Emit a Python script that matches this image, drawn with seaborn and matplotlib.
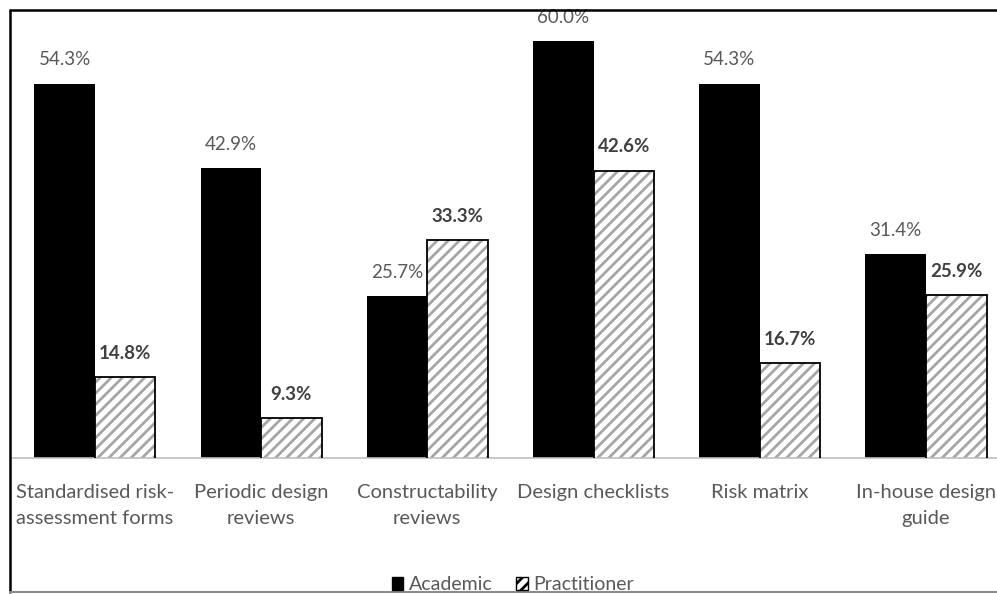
import matplotlib
matplotlib.use("Agg")
import matplotlib.pyplot as plt
import seaborn as sns
import pandas as pd
from matplotlib.patches import Rectangle, Patch

categories = ["Standardised risk-\nassessment forms", "Periodic design\nreviews",
              "Constructability\nreviews", "Design checklists", "Risk matrix",
              "In-house design\nguide"]
academic = [54.3, 42.9, 25.7, 60.0, 54.3, 31.4]
practitioner = [14.8, 9.3, 33.3, 42.6, 16.7, 25.9]
groups = ["Academic", "Practitioner"]

df = pd.DataFrame({
    "Technique": categories * 2,
    "Percent": academic + practitioner,
    "Group": [groups[0]] * len(categories) + [groups[1]] * len(categories),
})

sns.set_theme(style="white")
plt.rcParams['font.family'] = ['Lato', 'DejaVu Sans']
plt.rcParams['hatch.linewidth'] = 2.0
plt.rcParams['hatch.color'] = '#a6a6a6'

W, H = 997, 594
fig = plt.figure(figsize=(W / 100, H / 100), dpi=100)
ax = fig.add_axes([10 / W, (H - 458) / H, (W - 10) / W, (458 - 10) / H])

sns.barplot(data=df, x="Technique", y="Percent", hue="Group", order=categories,
            hue_order=groups, palette=["black", "white"], width=0.728, gap=0,
            ax=ax, legend=False, saturation=1, linewidth=0)

text_col = "#595959"
n = len(categories)
bars = ax.patches[:2 * n]
for i, p in enumerate(bars):
    is_prac = i >= n
    val = p.get_height()
    cx = p.get_x() + p.get_width() / 2
    if is_prac:
        p.set_facecolor("white")
        p.set_hatch("///")
        p.set_edgecolor("#a6a6a6")
        p.set_linewidth(0)
        ax.add_patch(Rectangle((p.get_x(), 0), p.get_width(), val, fill=False,
                               edgecolor="black", linewidth=1.3, zorder=3))
    ax.annotate(f"{val:.1f}%", (cx, val), xytext=(0, 17), textcoords="offset points",
                ha="center", va="center", fontsize=13.5,
                color=("#404040" if is_prac else text_col),
                fontweight=("bold" if is_prac else "normal"))

ax.set_ylim(3.93, 64.2)
ax.set_xlim(-0.51, 5.427)
ax.set_xlabel("")
ax.set_ylabel("")
ax.set_yticks([])
ax.tick_params(axis="x", length=0, pad=19, labelsize=14.5, labelcolor=text_col)
for lbl in ax.get_xticklabels():
    lbl.set_linespacing(1.6)
for s in ["top", "left", "right"]:
    ax.spines[s].set_visible(False)
ax.spines["bottom"].set_color("#bfbfbf")
ax.spines["bottom"].set_linewidth(1.2)

# outer border (left, top, bottom)
fig.add_artist(plt.Line2D([10 / W, 10 / W], [2 / H, (H - 10) / H], transform=fig.transFigure,
                          color="black", linewidth=1.8))
fig.add_artist(plt.Line2D([10 / W, 1], [(H - 10) / H, (H - 10) / H], transform=fig.transFigure,
                          color="black", linewidth=1.8))
fig.add_artist(plt.Line2D([10 / W, 1], [2 / H, 2 / H], transform=fig.transFigure,
                          color="#8c8c8c", linewidth=1.5))

handles = [Patch(facecolor="black", edgecolor="black", label=groups[0]),
           Patch(facecolor="white", edgecolor="black", hatch="///", label=groups[1])]
fig.legend(handles=handles, loc="center", bbox_to_anchor=(513 / W, (H - 585) / H),
           ncol=2, frameon=False, fontsize=14, labelcolor=text_col,
           handlelength=0.6, handleheight=0.6, handletextpad=0.3, columnspacing=1.2)

fig.savefig("out.png", dpi=100)
